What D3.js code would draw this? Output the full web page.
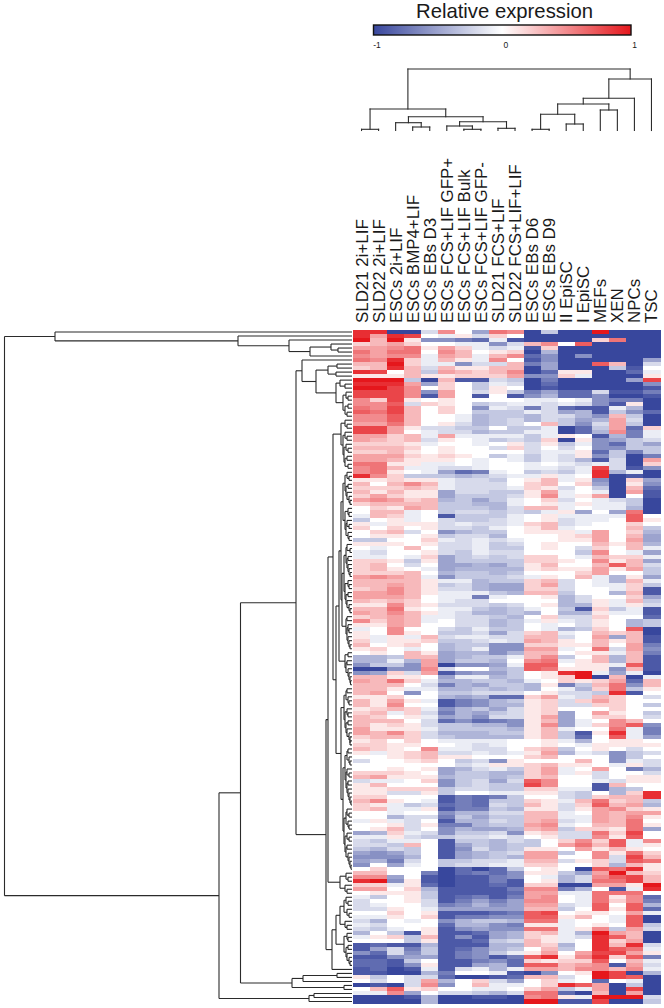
<!DOCTYPE html>
<html>
<head>
<meta charset="utf-8">
<script src="https://cdn.jsdelivr.net/npm/d3@7"></script>
<style>
  body { margin: 0; background: #fff; }
  text { font-family: "Liberation Sans", Arial, sans-serif; fill: #1a1a1a; }
</style>
</head>
<body>
<div id="chart"></div>
<script>
// column names, left to right
var samples = ["SLD21 2i+LIF", "SLD22 2i+LIF", "ESCs 2i+LIF", "ESCs BMP4+LIF", "ESCs EBs D3",
  "ESCs FCS+LIF GFP+", "ESCs FCS+LIF Bulk", "ESCs FCS+LIF GFP-", "SLD21 FCS+LIF", "SLD22 FCS+LIF+LIF",
  "ESCs EBs D6", "ESCs EBs D9", "II EpiSC", "I EpiSC", "MEFs", "XEN", "NPCs", "TSC"];

var legendTicks = [-1, 0, 1];

// expression, in tenths (-10 to 10), one list per row
var rowsBlock1 = [
  [9,9,-10,-10,-2,5,0,-5,6,5,-10,-3,-10,-10,10,-10,-10,-10],
  [9,4,9,8,0,-1,1,-2,2,0,-10,-10,-10,-10,-10,-10,-10,-10],
  [10,3,10,1,-6,-6,-7,-8,-1,-9,-10,-10,-10,-10,2,6,-10,-10],
  [2,3,4,2,0,0,-1,-1,-6,-2,3,5,0,7,-10,-10,-10,-10],
  [4,4,5,6,1,4,2,-1,-2,-1,-9,2,-10,-10,-10,-10,-10,-10],
  [6,4,6,6,0,5,3,0,1,2,-10,-4,-10,-10,-10,-10,-10,-10],
  [5,4,5,5,-1,4,3,-1,3,5,-8,-6,-10,-6,-10,-10,-10,-10],
  [6,5,9,2,-1,3,1,-1,5,0,-9,-6,-10,-10,-10,-10,-10,-5],
  [3,3,10,2,-1,-1,-6,-2,-2,3,-7,-5,-10,-10,7,3,-10,-2],
  [2,3,9,3,-2,3,1,1,3,3,-10,-5,-10,-10,-10,-3,-9,0],
  [9,8,0,3,-3,4,3,2,3,5,-10,-8,1,1,-10,-10,-8,-1],
  [1,1,1,3,1,1,2,2,2,4,-6,-6,2,-1,-10,-10,-10,1],
  [10,10,10,-3,-10,3,-9,-9,-2,-3,-10,-7,-10,-10,-10,-10,-5,8],
  [9,9,9,4,-5,2,0,-3,-1,-2,-10,-8,-10,-10,-10,-10,-10,-6],
  [10,10,8,5,0,2,0,-3,1,0,-10,-9,-10,-10,-10,-10,-10,-9],
  [8,8,8,5,-6,4,0,-2,1,-3,-7,-5,-8,-8,-2,-9,-9,-7],
  [8,8,8,5,-9,4,0,-9,0,-9,-6,-4,-8,-8,-6,-10,-10,-9],
  [5,2,8,1,0,1,0,0,0,0,-1,-1,0,-1,-6,-7,-7,-10],
  [5,5,7,-2,2,1,0,-3,-2,-1,-1,-2,-1,-2,-6,-9,1,-10],
  [6,5,8,3,0,2,0,-6,-1,-2,-7,-2,-8,-9,-9,-1,-4,-10],
  [7,6,8,3,0,2,0,-3,-3,-3,-1,-2,-5,-4,-9,-3,-6,-8],
  [5,5,7,3,0,0,-1,-4,-3,-3,-4,-2,-2,-4,-6,3,-3,-10],
  [5,5,7,3,0,0,-1,-4,-3,-2,-4,-2,-3,-5,-4,4,-2,-10],
  [4,4,6,3,0,1,-2,-4,-3,-2,0,3,-3,-6,-2,4,-3,-10],
  [8,8,4,1,-2,-2,-3,-3,0,-3,-3,-1,-10,-8,-3,4,-8,2],
  [8,8,4,0,-1,-2,-2,-4,-3,-3,-1,-1,-10,-8,-4,5,-7,-1],
  [4,4,2,3,-1,4,-1,-1,-1,-1,-3,-1,1,0,-9,-4,-7,-1],
  [4,3,2,3,-2,1,0,-1,-3,-2,-3,2,-10,1,-6,-5,-3,-2],
  [2,2,2,1,-1,0,0,-1,0,1,-2,1,-3,-1,-6,-8,-3,-5],
  [3,3,3,2,0,1,0,0,-2,2,-2,0,-2,0,-6,-6,-3,-3],
  [2,2,3,1,0,1,0,0,0,0,-2,-1,-1,1,-8,-3,-7,-3],
  [4,4,4,2,1,2,1,0,-3,-1,-3,-1,-2,1,-6,-3,-10,-7],
  [4,4,3,1,1,1,0,-1,0,-1,-3,-1,-2,-4,-9,-2,-10,4],
  [6,6,1,1,-1,-1,0,-1,0,0,-1,0,-1,-2,-1,-2,-10,2]
];
var rowsBlock2 = [
  [5,6,3,-1,-1,-2,-2,-1,0,0,-1,-1,-2,-1,8,-2,-9,-6],
  [5,6,1,0,-1,-5,-8,-7,-1,0,-3,-2,-3,-1,9,-4,-1,-10],
  [9,5,2,-3,-3,-3,-4,-3,-2,-1,-1,1,-1,0,9,-10,-9,-10],
  [1,1,2,1,1,-1,-2,-2,-3,0,1,3,-1,1,-6,-10,2,-5],
  [3,0,3,5,3,-1,-2,-2,-2,0,2,3,0,2,-5,-10,1,-6],
  [2,2,2,3,2,-1,-2,-2,-2,-1,2,1,-2,0,-3,-10,3,-8],
  [3,1,3,1,1,-5,-2,-2,-3,-3,1,4,-1,0,-1,-10,4,-9],
  [2,4,2,1,1,-5,-3,-3,-3,-2,1,5,-1,1,4,-10,0,-9],
  [4,5,4,2,3,-4,-3,-5,-3,-1,0,2,-2,0,-1,-2,-3,-10],
  [2,3,3,3,3,-3,-3,-4,-4,-1,0,1,-1,1,-1,-1,-3,-10],
  [0,2,1,4,3,-3,-3,-3,-4,-2,3,3,-1,0,-1,-1,-4,-10],
  [0,3,3,-1,0,-3,-2,-2,-3,-2,-3,-1,1,-5,0,-5,6,-10],
  [-1,3,2,-1,0,-9,-3,-3,-3,-1,0,1,-1,-1,-1,-1,7,0],
  [-3,0,1,-1,0,-2,-3,-3,-2,-1,0,1,-2,-1,-1,0,7,1],
  [1,-1,1,1,1,-2,-1,-2,-2,-1,2,3,-2,-1,0,0,2,0],
  [2,0,2,0,1,-2,-2,-3,-1,0,1,3,-1,0,0,0,3,-3],
  [0,2,3,-2,0,-6,-4,-3,-3,0,1,1,1,-1,4,0,2,-4],
  [0,1,1,0,1,-3,-2,-2,-4,0,0,0,1,2,4,0,3,-5],
  [-3,-3,0,0,2,-1,-2,-1,-2,-1,0,0,1,1,4,0,4,-5],
  [1,1,1,0,1,-2,-2,-1,-3,-2,0,1,0,0,3,1,3,-4],
  [0,-1,0,3,0,-2,-2,-1,-3,-3,0,1,0,-2,2,0,3,-1],
  [-1,-2,0,0,1,-2,-3,-1,-2,-2,0,0,0,-3,5,0,-1,-5],
  [-1,-1,0,-1,2,-5,-3,-2,-3,-2,2,2,0,-1,3,2,2,-1],
  [2,2,1,-3,1,-5,-3,-3,-3,-3,2,2,1,0,5,1,3,-5],
  [2,3,0,-2,0,-5,-5,-4,-5,-3,1,3,0,0,3,7,3,-2],
  [2,3,1,0,-1,-5,-4,-4,-4,-4,1,2,1,1,4,1,4,-3],
  [2,2,2,3,0,-4,-3,-3,-4,-3,0,0,0,2,4,0,0,-3],
  [4,5,4,3,-1,-6,-3,-3,-3,-2,-1,1,0,3,-1,-4,1,-5],
  [3,3,3,3,1,-1,-1,-4,-3,-3,2,3,-2,0,-1,-4,3,-1],
  [3,3,4,3,1,-3,-2,-4,-5,-5,2,4,-2,0,-1,-1,2,-3],
  [2,3,5,3,1,-2,-2,-4,-5,-5,2,2,-2,0,0,-1,2,-9],
  [4,4,5,3,1,-1,-1,-1,-3,-4,3,3,-3,0,0,-4,3,-9],
  [4,4,4,3,0,-1,-1,-7,-1,0,0,1,-4,-2,0,0,2,-5],
  [3,2,3,2,0,-1,-2,-2,0,0,0,0,-4,-2,1,-1,3,-3],
  [1,1,5,2,1,-2,-2,-2,-3,-2,0,1,-4,-4,1,-1,1,-2]
];
var rowsBlock3 = [
  [3,3,6,1,0,-1,-1,-3,-4,-3,-1,0,-3,-9,2,-3,-1,-9],
  [4,3,5,3,1,-1,-2,-4,-4,-3,-4,0,-4,-4,1,-1,-1,-9],
  [2,3,4,3,-1,-1,-2,-2,-3,-4,0,2,-2,-2,2,0,0,-8],
  [5,2,4,3,-1,0,-2,-2,-4,-3,-1,1,-1,-2,1,0,-4,-3],
  [1,1,4,3,0,0,-2,-2,-4,-3,0,-1,0,-2,1,0,-4,-3],
  [-1,0,5,0,0,-2,-3,-1,-3,-3,0,-1,-4,-3,2,0,7,-10],
  [1,0,5,1,0,-3,-3,-2,-5,-2,2,3,-1,0,3,2,3,-10],
  [1,-1,1,-1,3,-2,-1,-1,-2,-2,3,3,-2,0,4,-5,3,-9],
  [2,-1,1,1,2,-3,-3,-2,-1,-2,4,3,1,0,3,1,3,-9],
  [3,0,1,2,0,-4,-3,-3,-6,-6,2,2,1,1,3,0,4,-7],
  [1,2,0,-1,0,-4,-3,-1,-6,-6,4,4,-1,0,6,-2,4,-6],
  [0,1,0,3,1,-5,-4,-4,-6,-4,3,3,0,1,1,-1,3,-7],
  [-4,-4,-3,3,3,-5,-4,-3,-3,-1,3,5,-3,0,3,-4,3,-9],
  [-4,-4,-1,-4,4,-5,-3,-3,-4,0,5,6,-1,1,3,-4,3,-9],
  [-6,-3,-3,-6,4,-10,-6,-6,-5,-1,7,7,0,1,1,-1,7,-9],
  [-10,-10,-6,-6,5,-2,0,0,-4,-3,7,6,1,1,1,-6,3,-9],
  [-6,-5,2,-2,4,-9,-6,-5,-5,-3,0,1,9,10,-1,-5,-1,-10],
  [3,3,1,1,0,-5,-1,-1,-4,-3,0,1,2,10,-10,3,-10,-1],
  [4,3,6,2,-1,-4,-4,-3,-3,-4,-1,0,2,1,2,4,-8,3],
  [3,3,3,0,-2,-7,-4,-5,-3,-3,-4,1,-7,-3,3,6,-6,3],
  [3,3,1,-1,-1,-4,-4,-3,-4,-3,-4,0,-1,-4,2,6,-3,1],
  [3,4,0,-6,0,-3,-3,-2,-2,-2,0,1,-2,-2,-3,9,-9,0],
  [1,1,2,0,0,-4,-5,-4,-8,-8,2,4,-1,-2,3,2,0,-2],
  [3,1,4,1,-1,-9,-7,-6,-4,-3,1,2,-2,2,4,2,0,0],
  [3,1,5,0,0,-9,-7,-6,-4,-4,1,2,-2,-2,2,2,0,-3],
  [1,2,3,2,-1,-6,-4,-3,-5,-2,1,2,0,0,0,2,0,0],
  [2,3,-1,2,-2,-7,-4,-5,-3,-2,1,2,-5,0,4,1,0,-3],
  [3,2,0,1,-1,-5,-4,-6,-2,-2,1,4,-5,0,2,2,0,-2],
  [3,3,3,0,-2,-8,-6,-8,-7,-6,1,3,-5,-1,0,5,3,0],
  [3,1,2,1,-2,-3,-3,-4,-4,-6,1,5,-5,-1,2,5,7,-6],
  [4,1,1,1,-1,-3,-3,-3,-3,-4,1,3,-1,0,0,6,-1,-7],
  [4,3,5,2,-2,-4,-4,-4,-3,-3,1,3,-3,-9,1,9,-1,-7],
  [2,3,3,2,-2,-3,-4,-4,-4,-4,1,3,-3,-8,0,7,-1,-5],
  [1,2,0,2,0,-1,-1,-1,-1,0,0,1,-1,-4,0,1,1,0],
  [2,2,1,1,0,0,-1,-2,-1,0,0,1,0,-1,1,1,1,1]
];
var rowsBlock4 = [
  [3,2,1,0,5,-1,-1,-2,-2,0,2,3,-3,0,1,0,-2,0],
  [1,-1,1,2,3,-2,-2,-1,-2,-1,1,4,-4,-1,-2,-6,-3,-2],
  [0,0,1,2,3,1,1,0,0,0,2,3,0,0,0,-6,-3,0],
  [-2,0,0,1,2,0,-3,-2,-6,1,0,0,0,3,0,-6,-1,-2],
  [0,0,0,0,0,0,-2,-1,1,1,2,3,1,1,0,-1,1,-2],
  [0,0,1,0,1,-5,-4,-2,-1,-3,2,4,-1,0,4,0,-7,-4],
  [2,2,2,1,0,-5,-3,-3,-4,-4,2,4,-1,1,-2,0,0,-2],
  [3,4,1,1,1,-4,-3,-3,-4,-3,2,3,0,0,-2,0,1,1],
  [-2,-1,-1,0,2,-6,-3,-2,-5,-2,7,5,0,0,-1,-2,1,1],
  [1,3,0,0,0,-6,-3,-2,-3,-3,8,5,0,0,-9,3,0,0],
  [1,1,2,2,2,-3,-2,-2,-3,-3,2,2,-1,-1,-9,-4,-3,0],
  [1,1,-2,-2,1,-3,0,0,-1,-1,1,1,-2,-3,0,-4,2,9],
  [2,2,0,0,0,-9,-7,-8,-7,-3,0,0,-2,-3,2,3,3,9],
  [3,5,1,0,-1,-9,-7,-8,-3,-3,2,1,-1,3,6,2,3,-3],
  [2,1,-1,-3,-2,-8,-7,-8,-2,-3,3,1,-2,2,7,3,4,-4],
  [2,3,-1,-1,1,-9,-7,-7,-3,-4,1,1,-2,1,4,5,2,1],
  [0,0,-1,0,0,-6,-4,-4,-2,-2,3,3,-1,0,4,3,4,4],
  [0,0,-4,-2,-2,-7,-3,-5,-3,-3,3,3,-1,-1,4,3,5,1],
  [-1,1,-1,-2,0,-9,-4,-4,-2,-3,3,4,-2,-1,4,3,6,0],
  [0,0,1,-2,1,-7,-7,-4,-3,-3,4,5,-1,0,3,3,6,1],
  [0,1,3,-2,0,-6,-4,-5,-5,-4,3,4,-3,2,2,1,6,-5],
  [-5,-4,2,-1,-2,-6,-3,-3,-2,-6,1,2,-2,-2,6,2,8,0],
  [-1,-1,1,-2,-3,-3,-2,-2,-1,-2,0,1,-2,-2,5,1,7,0],
  [-2,-3,-1,-1,0,-9,-3,-3,-4,-2,-3,0,2,5,2,7,-1,5],
  [-2,-2,-3,3,0,-9,-5,-3,-4,-3,-3,0,4,6,3,7,-1,1],
  [-3,-4,-2,-3,0,-9,-6,-2,-4,-3,1,1,0,4,1,3,1,0],
  [-5,-6,-5,-3,0,-9,-5,-4,-3,-2,4,4,-3,0,5,1,6,2],
  [-6,-6,-6,-4,0,-9,-5,-4,-3,-4,4,4,0,0,5,-2,8,3],
  [-5,-4,-7,-2,0,-3,-3,-2,-2,-1,3,3,-2,1,2,-2,7,6],
  [-6,0,-5,-1,0,-3,-2,-2,-1,-1,2,2,0,0,2,-4,3,1],
  [0,2,0,0,0,-10,-8,-10,-8,-3,0,1,0,-10,7,6,9,1],
  [3,3,0,0,-7,-10,-8,-7,-8,-6,1,1,-3,-5,4,10,3,2]
];
var rowsBlock5 = [
  [5,5,-5,0,-9,-10,-9,-9,-7,-6,0,-1,-4,-2,5,7,8,3],
  [9,10,-6,1,-9,-10,-9,-9,-7,-9,0,1,-4,-2,6,6,8,3],
  [2,2,-1,1,-8,-10,-9,-9,-8,-9,2,2,-10,-10,4,4,1,10],
  [4,4,0,2,-4,-9,-9,-9,-9,-7,5,5,-7,-4,0,-9,-1,9],
  [0,1,1,1,-3,-9,-9,-9,-9,-8,4,4,-1,-1,6,6,6,0],
  [-1,-3,0,1,-3,-9,-8,-7,-9,-7,4,5,0,-1,6,1,5,-8],
  [-2,0,0,1,-2,-9,-7,-5,-7,-5,5,5,0,-1,6,2,5,-7],
  [-2,-1,0,0,-2,-7,-6,-4,-6,-5,4,4,-2,-1,7,0,7,-4],
  [-2,-2,1,0,-1,-5,-5,-5,-5,-5,3,3,-3,0,7,1,7,-8],
  [0,0,2,0,1,-9,-9,-9,-8,-7,7,8,0,1,1,0,4,-1],
  [-1,-1,1,0,2,-9,-7,-7,-6,-6,7,7,1,3,0,-1,7,-10],
  [-2,-4,0,-1,0,-6,-4,-3,-3,-4,6,6,-1,0,0,-1,7,-10],
  [-1,-2,0,0,0,-8,-4,-4,-6,-7,1,1,-1,0,1,0,7,-3],
  [-2,-3,-1,0,1,-9,-6,-5,-6,-6,6,6,-1,1,5,-3,4,-2],
  [-4,0,-3,-9,1,-9,-9,-8,-5,-4,2,3,-1,-4,10,4,3,-10],
  [-1,1,2,-3,3,-9,-6,-9,-5,-4,2,1,-1,-2,9,7,3,-10],
  [0,0,0,-3,1,-9,-9,-8,-3,-2,3,1,-1,0,9,2,4,-10],
  [-9,-8,-9,-9,-4,-9,-9,-9,-4,-4,3,2,-4,0,9,3,9,-2],
  [-9,-5,-2,-7,-3,-9,-8,-6,-4,-3,0,3,-3,0,9,7,6,-1],
  [-6,-8,-2,-6,-3,-9,-7,-6,-3,-1,1,4,0,4,8,8,4,1],
  [-9,-9,-6,-5,-5,-9,-7,-6,-9,-7,7,9,1,5,9,2,7,-7],
  [-8,-8,-9,-3,0,-9,-9,-7,-6,-8,2,1,2,2,7,0,3,-1],
  [-8,-8,-9,-6,1,-9,-9,-5,-4,-8,7,7,3,4,5,-9,4,-2],
  [-9,-8,-10,-9,-1,-9,-2,-1,-4,-1,4,4,3,5,5,3,5,-1],
  [-9,-9,-10,-10,-4,-7,0,0,-1,-9,-10,-6,0,1,10,8,-10,-4],
  [1,-3,0,-2,-2,-8,-10,-10,-9,-8,3,3,-2,0,10,8,7,-10],
  [0,-2,0,-2,4,-4,0,2,-2,-5,0,2,-1,0,-8,0,-1,-10],
  [-10,-9,-10,-2,5,-6,0,3,-1,-1,0,2,9,7,4,-10,-3,-10],
  [0,3,7,1,2,0,0,-1,-1,0,2,4,-3,-1,4,-10,8,-10],
  [-1,-1,5,-5,0,-2,-2,-3,-4,-2,6,6,-8,-10,3,-10,4,-10],
  [-10,-10,-10,-9,-4,-10,-10,-9,-9,-10,5,6,1,-1,10,10,10,-2],
  [-10,-10,-10,-10,-4,-10,-10,-10,-10,-10,10,10,-9,-9,8,-10,-10,-3]
];
var exprRows = rowsBlock1.concat(rowsBlock2, rowsBlock3, rowsBlock4, rowsBlock5);

// sample tree: [merge height, left, right], a plain number is a column index
var sampleTree = [61.5,
  [21.5, [1.2, 0, 1], [13.8, [7.8, 2, [3.5, 3, 4]], [8.8, [4.5, 5, [1.2, 6, 7]], [2.2, 8, 9]]]],
  [51.5, [32.2, [26.5, [16.2, [1.2, 10, 11], [6.5, 12, 13]], [20.5, 14, 15]], 16], 17]];

// gene tree: same form, height is read as distance from the heatmap, a number is a row index
var clusterTop = [297, 0, [114, 1, [63, 2, [42, [21, 3, [14, 4, 5]], 6]]]];
var clusterA = [50, 7, [36, [24, [15, 8, 9], [16, 10, 11]], [16, [12, 12, [7, 13, 14]], [9, [6, 15, [4, 16, 17]], [7, [4, 18, 19], [5, 20, 21]]]]]];
var clusterB = [11, [7, 22, [5, 23, 24]], [9, [7, 25, [5, 26, 27]], [8, [6, 28, [4, 29, 30]], [7, [5, 31, 32], [4, 33, 34]]]]];
var clusterC1 = [7, [5, 35, [3, 36, 37]], [6, [4, 38, 39], [5, 40, [3, 41, [2, 42, 43]]]]];
var clusterC2 = [7, [4, 44, [3, 45, 46]], [6, [5, 47, [3, 48, 49]], [4, 50, [3, 51, 52]]]];
var clusterC3 = [6, [5, 53, [2, 54, 55]], [5, [4, 56, 57], [4, 58, [3, 59, [2, 60, 61]]]]];
var clusterC4 = [7, [4, 62, [3, 63, 64]], [6, [4, 65, 66], [5, 67, [3, 68, [2, 69, 70]]]]];
var clusterC5 = [6, [5, 71, 72], [5, [4, 73, [3, 74, 75]], [4, 76, [3, 77, [2, 78, 79]]]]];
var clusterC = [11, [9, clusterC1, clusterC2], [10, [8, clusterC3, clusterC4], clusterC5]];
var clusterD = [7, [4, 80, 81], [6, [5, 82, 83], [4, 84, [3, 85, [2, 86, [1.5, 87, 88]]]]]];
var clusterE1 = [8, [6, [5, 89, 90], [4, 91, [3, 92, 93]]], [7, [5, 94, [4, 95, 96]], [6, [4, 97, 98], [5, 99, [3, 100, [2, 101, [2, 102, 103]]]]]]];
var clusterE2 = [7, [5, [4, 104, 105], [3, 106, [2, 107, 108]]], [6, [5, 109, [3, 110, 111]], [5, [4, 112, 113], [4, 114, [3, 115, [2, 116, [1, 117, 118]]]]]]];
var clusterE3 = [8, [6, [5, 119, [3, 120, 121]], [4, 122, [3, 123, 124]]], [7, [5, 125, [3, 126, 127]], [6, [5, 128, 129], [4, 130, [3, 131, [2, 132, [1, 133, 134]]]]]]];
var clusterE = [11, clusterE1, [9, clusterE2, clusterE3]];
var clusterF = [12, [6, 135, [4, 136, 137]], [7, 138, [5, 139, 140]]];
var clusterG1 = [12, [8, [6, 141, [4, 142, 143]], [5, 144, [3, 145, 146]]], [7, 147, [5, 148, 149]]];
var clusterG2 = [8, [5, 150, [4, 151, 152]], [6, [4, 153, 154], [5, 155, [3, 156, [2, 157, 158]]]]];
var clusterG = [16, clusterG1, clusterG2];
var geneTree = [347.5, clusterTop,
  [133,
    [111.5,
      [56, clusterA,
        [26,
          [24, [19, clusterB, [16, [13, clusterC, clusterD], clusterE]], clusterF],
          [20, clusterG, 159]]],
      [60, [49, [15, 160, 161], 162], [8, 163, 164]]],
    [43, [38, 165, 166], 167]]];

var svg = d3.select("#chart").append("svg")
  .attr("width", 664)
  .attr("height", 1008)
  .style("display", "block");

// scales
var colX = d3.scaleBand().domain(samples.map((d, i) => i)).range([353, 660]);
var rowY = d3.scaleBand().domain(exprRows.map((d, i) => i)).range([330, 1003.5]);
var color = d3.scaleLinear().domain([-10, 0, 10]).range(["#38479d", "#ffffff", "#e5171c"]).clamp(true);
var legendX = d3.scaleLinear().domain([-1, 1]).range([373.5, 631]);
var treeTop = d3.scaleLinear().domain([0, 61.5]).range([130.5, 69]);
var treeLeft = d3.scaleLinear().domain([0, 347.5]).range([352, 4.5]);

// heatmap cells
var heat = svg.append("g").attr("shape-rendering", "crispEdges");
exprRows.forEach(function(row, r) {
  heat.selectAll(null)
    .data(row)
    .join("rect")
    .attr("x", (d, c) => colX(c))
    .attr("y", rowY(r))
    .attr("width", colX.bandwidth() + 0.5)
    .attr("height", rowY.bandwidth() + 0.5)
    .attr("fill", d => color(d));
});

// walks a tree, returns the position of the node and pushes its elbow lines
function walkTree(node, leafPos, segs) {
  if (typeof node === "number") {
    return { pos: leafPos(node), h: 0 };
  }
  let a = walkTree(node[1], leafPos, segs);
  let b = walkTree(node[2], leafPos, segs);
  segs.push([a.pos, node[0], b.pos, node[0]]);
  segs.push([a.pos, a.h, a.pos, node[0]]);
  segs.push([b.pos, b.h, b.pos, node[0]]);
  return { pos: (a.pos + b.pos) / 2, h: node[0] };
}

var topSegs = [];
walkTree(sampleTree, c => colX(c) + colX.bandwidth() / 2, topSegs);
svg.append("g").selectAll("line")
  .data(topSegs)
  .join("line")
  .attr("x1", d => d[0])
  .attr("x2", d => d[2])
  .attr("y1", d => treeTop(d[1]))
  .attr("y2", d => treeTop(d[3]))
  .attr("stroke", "#2b2b2b")
  .attr("stroke-width", 1.1)
  .attr("stroke-linecap", "square");

var leftSegs = [];
walkTree(geneTree, r => rowY(r) + rowY.bandwidth() / 2, leftSegs);
svg.append("g").selectAll("line")
  .data(leftSegs)
  .join("line")
  .attr("x1", d => treeLeft(d[1]))
  .attr("x2", d => treeLeft(d[3]))
  .attr("y1", d => d[0])
  .attr("y2", d => d[2])
  .attr("stroke", "#2b2b2b")
  .attr("stroke-width", 1.1);

// column labels
svg.append("g").selectAll("text")
  .data(samples)
  .join("text")
  .attr("transform", (d, i) => `translate(${colX(i) + colX.bandwidth() / 2 + 6},323) rotate(-90)`)
  .attr("font-size", 16.9)
  .text(d => d);

// colour key
var grad = svg.append("defs").append("linearGradient").attr("id", "key");
grad.selectAll("stop")
  .data(d3.range(-10, 11))
  .join("stop")
  .attr("offset", d => (d + 10) / 20)
  .attr("stop-color", d => color(d));

svg.append("rect")
  .attr("x", legendX(-1))
  .attr("y", 25)
  .attr("width", legendX(1) - legendX(-1))
  .attr("height", 10)
  .attr("fill", "url(#key)")
  .attr("stroke", "#111")
  .attr("stroke-width", 1.4);

svg.append("text")
  .attr("x", 504.5)
  .attr("y", 18)
  .attr("text-anchor", "middle")
  .attr("font-size", 20.3)
  .text("Relative expression");

svg.append("g").selectAll("text")
  .data(legendTicks)
  .join("text")
  .attr("x", d => legendX(d) + 3.5)
  .attr("y", 47.5)
  .attr("text-anchor", "middle")
  .attr("font-size", 8.5)
  .text(d => d);
</script>
</body>
</html>
